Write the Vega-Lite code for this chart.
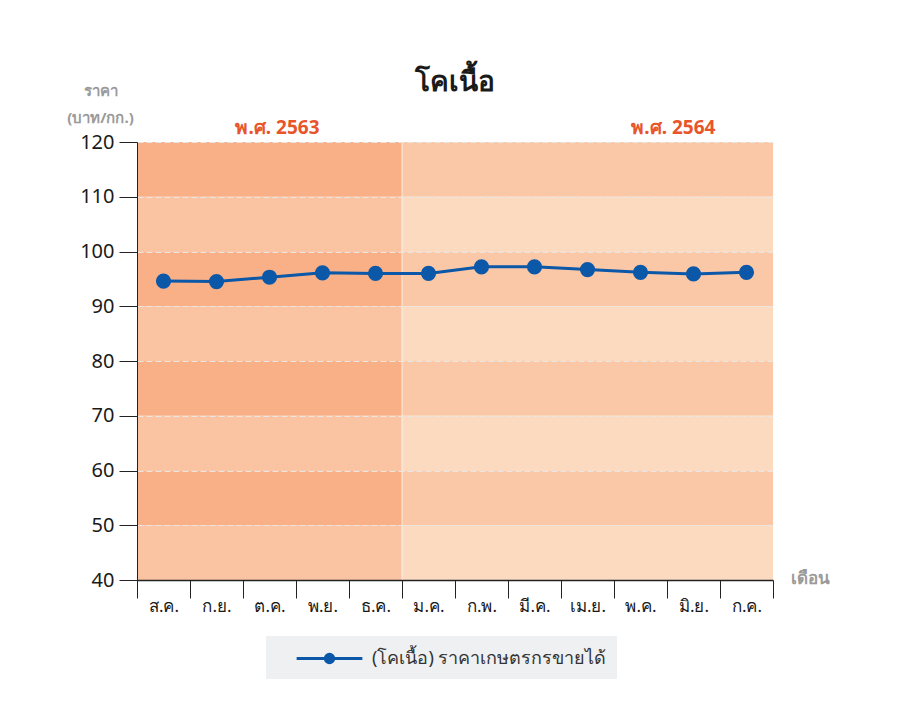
{
  "$schema": "https://vega.github.io/schema/vega-lite/v6.json",
  "width": 636,
  "height": 438,
  "autosize": {"type": "none"},
  "padding": {"left": 137, "top": 142, "right": 129, "bottom": 128},
  "background": "white",
  "config": {
    "font": "Noto Sans",
    "view": {"stroke": null}
  },
  "title": {
    "text": "โคเนื้อ",
    "fontSize": 28,
    "fontWeight": "bold",
    "color": "#1a1a1a",
    "anchor": "middle",
    "offset": -14
  },
  "datasets": {
    "bands": [
      {"x0": 0, "x1": 5, "y0": 110, "y1": 120, "key": "2563-a"},
      {"x0": 0, "x1": 5, "y0": 100, "y1": 110, "key": "2563-b"},
      {"x0": 0, "x1": 5, "y0": 90, "y1": 100, "key": "2563-a"},
      {"x0": 0, "x1": 5, "y0": 80, "y1": 90, "key": "2563-b"},
      {"x0": 0, "x1": 5, "y0": 70, "y1": 80, "key": "2563-a"},
      {"x0": 0, "x1": 5, "y0": 60, "y1": 70, "key": "2563-b"},
      {"x0": 0, "x1": 5, "y0": 50, "y1": 60, "key": "2563-a"},
      {"x0": 0, "x1": 5, "y0": 40, "y1": 50, "key": "2563-b"},
      {"x0": 5, "x1": 12, "y0": 110, "y1": 120, "key": "2564-a"},
      {"x0": 5, "x1": 12, "y0": 100, "y1": 110, "key": "2564-b"},
      {"x0": 5, "x1": 12, "y0": 90, "y1": 100, "key": "2564-a"},
      {"x0": 5, "x1": 12, "y0": 80, "y1": 90, "key": "2564-b"},
      {"x0": 5, "x1": 12, "y0": 70, "y1": 80, "key": "2564-a"},
      {"x0": 5, "x1": 12, "y0": 60, "y1": 70, "key": "2564-b"},
      {"x0": 5, "x1": 12, "y0": 50, "y1": 60, "key": "2564-a"},
      {"x0": 5, "x1": 12, "y0": 40, "y1": 50, "key": "2564-b"}
    ],
    "years": [
      {"pos": 2.65, "y": 120, "label": "พ.ศ. 2563"},
      {"pos": 10.12, "y": 120, "label": "พ.ศ. 2564"}
    ],
    "divider": [
      {"pos": 5}
    ],
    "prices": [
      {"month": "ส.ค.", "price": 94.6, "series": "(โคเนื้อ) ราคาเกษตรกรขายได้"},
      {"month": "ก.ย.", "price": 94.5, "series": "(โคเนื้อ) ราคาเกษตรกรขายได้"},
      {"month": "ต.ค.", "price": 95.3, "series": "(โคเนื้อ) ราคาเกษตรกรขายได้"},
      {"month": "พ.ย.", "price": 96.1, "series": "(โคเนื้อ) ราคาเกษตรกรขายได้"},
      {"month": "ธ.ค.", "price": 96.0, "series": "(โคเนื้อ) ราคาเกษตรกรขายได้"},
      {"month": "ม.ค.", "price": 96.0, "series": "(โคเนื้อ) ราคาเกษตรกรขายได้"},
      {"month": "ก.พ.", "price": 97.2, "series": "(โคเนื้อ) ราคาเกษตรกรขายได้"},
      {"month": "มี.ค.", "price": 97.2, "series": "(โคเนื้อ) ราคาเกษตรกรขายได้"},
      {"month": "เม.ย.", "price": 96.7, "series": "(โคเนื้อ) ราคาเกษตรกรขายได้"},
      {"month": "พ.ค.", "price": 96.2, "series": "(โคเนื้อ) ราคาเกษตรกรขายได้"},
      {"month": "มิ.ย.", "price": 95.9, "series": "(โคเนื้อ) ราคาเกษตรกรขายได้"},
      {"month": "ก.ค.", "price": 96.2, "series": "(โคเนื้อ) ราคาเกษตรกรขายได้"}
    ]
  },
  "layer": [
    {
      "data": {"name": "bands"},
      "mark": {"type": "rect", "stroke": null},
      "encoding": {
        "x": {"field": "x0", "type": "quantitative", "scale": {"domain": [0, 12], "nice": false, "zero": false}, "axis": null},
        "x2": {"field": "x1"},
        "y": {"field": "y0", "type": "quantitative", "scale": {"domain": [40, 120], "nice": false, "zero": false},
          "axis": {
            "values": [40, 50, 60, 70, 80, 90, 100, 110, 120],
            "title": ["ราคา", "(บาท/กก.)"],
            "titleAngle": 0,
            "titleAlign": "center",
            "titleBaseline": "middle",
            "titleX": -37,
            "titleY": -52,
            "titleLineHeight": 27,
            "titleFontSize": 15,
            "titleFontWeight": "bold",
            "titleColor": "#9a9a9a",
            "labelFontSize": 20,
            "labelColor": "#1a1a1a",
            "labelPadding": 5,
            "tickSize": 18,
            "tickColor": "#222222",
            "domainColor": "#222222",
            "grid": true,
            "gridColor": "#E9E5E3",
            "gridDash": [6, 3],
            "gridWidth": 1.2,
            "zindex": 1
          }},
        "y2": {"field": "y1"},
        "fill": {"field": "key", "type": "nominal", "legend": null,
          "scale": {"domain": ["2563-a", "2563-b", "2564-a", "2564-b"], "range": ["#F9B087", "#FAC4A3", "#FBC8A7", "#FCDAC0"]}}
      }
    },
    {
      "data": {"name": "divider"},
      "mark": {"type": "rule", "color": "#ffffff", "opacity": 0.45, "strokeWidth": 1.5},
      "encoding": {
        "x": {"field": "pos", "type": "quantitative", "scale": {"domain": [0, 12], "nice": false, "zero": false}, "axis": null}
      }
    },
    {
      "data": {"name": "years"},
      "mark": {"type": "text", "color": "#E8552A", "fontSize": 19, "fontWeight": "bold", "dy": -14, "baseline": "middle"},
      "encoding": {
        "x": {"field": "pos", "type": "quantitative", "scale": {"domain": [0, 12], "nice": false, "zero": false}, "axis": null},
        "y": {"field": "y", "type": "quantitative"},
        "text": {"field": "label"}
      }
    },
    {
      "data": {"name": "prices"},
      "mark": {"type": "line", "strokeWidth": 3, "point": {"filled": true, "size": 230, "opacity": 1}},
      "encoding": {
        "x": {"field": "month", "type": "ordinal", "sort": null,
          "scale": {"paddingInner": 0, "paddingOuter": 0},
          "axis": {
            "title": "เดือน",
            "titleX": 673,
            "titleY": -2,
            "titleAlign": "center",
            "titleBaseline": "middle",
            "titleFontSize": 17,
            "titleFontWeight": "bold",
            "titleColor": "#9a9a9a",
            "tickBand": "extent",
            "tickSize": 18,
            "tickColor": "#222222",
            "domainColor": "#222222",
            "domainWidth": 1.3,
            "labelAngle": 0,
            "labelFontSize": 17,
            "labelColor": "#1a1a1a",
            "labelPadding": 0,
            "labelBaseline": "top",
            "zindex": 2
          }},
        "y": {"field": "price", "type": "quantitative"},
        "color": {"field": "series", "type": "nominal",
          "scale": {"range": ["#0B57A8"]},
          "legend": {
            "title": null,
            "orient": "none",
            "legendX": 129,
            "legendY": 494,
            "fillColor": "#EEF0F2",
            "padding": 10,
            "labelFontSize": 18,
            "labelLimit": 500,
            "labelColor": "#333333",
            "labelOffset": 30,
            "symbolType": "M-3,0H3M-0.38,0a0.38,0.38 0 1,0 0.76,0a0.38,0.38 0 1,0 -0.76,0",
            "symbolSize": 480,
            "symbolStrokeWidth": 3,
            "symbolFillColor": "#0B57A8",
            "symbolStrokeColor": "#0B57A8",
            "symbolOffset": 41
          }}
      }
    }
  ],
  "resolve": {"scale": {"x": "independent"}, "axis": {"x": "independent"}}
}
